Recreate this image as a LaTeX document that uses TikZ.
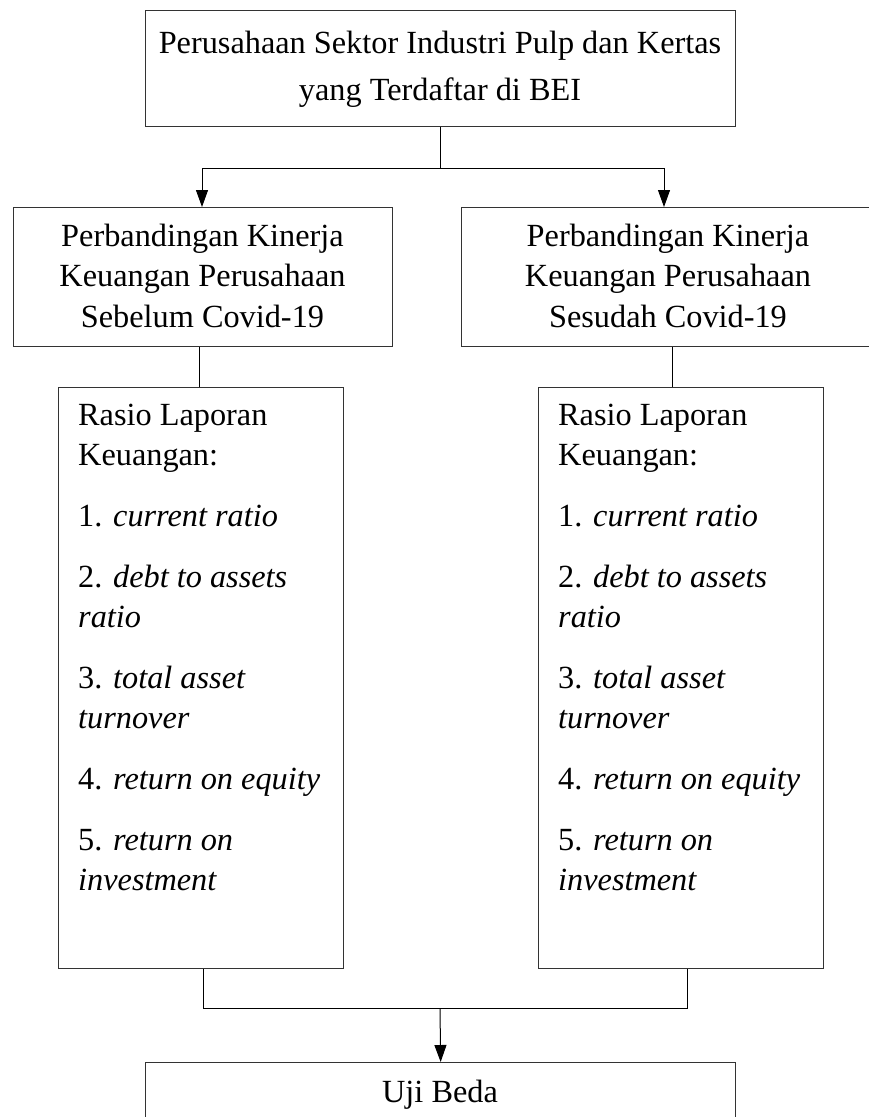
\documentclass[tikz,border=0pt]{standalone}
\usepackage{fontspec}
\setmainfont{Liberation Serif}
\usetikzlibrary{arrows.meta}

\tikzset{
  kotak/.style={draw=black!80, line width=1.3pt, inner sep=0pt},
  teks/.style={inner sep=0pt, font=\fontsize{32.3}{40.5}\selectfont},
  panah/.style={line width=1pt, -{Triangle[length=17pt,width=12pt]}},
  garis/.style={line width=1pt}
}

\begin{document}
\begin{tikzpicture}[x=1pt, y=-1pt]
  %kerangka pemikiran
  \useasboundingbox (0,0) rectangle (869,1117);
  \def\lw{285}
  % kotak atas
  \node[kotak, anchor=north west, minimum width=590pt, minimum height=116pt] (bei) at (145,10) {};
  \node[teks, anchor=base, align=center, font=\fontsize{32.3}{47}\selectfont] (beitxt) at (440,100)
    {Perusahaan Sektor Industri Pulp dan Kertas\\yang Terdaftar di BEI};
  % dua kotak perbandingan
  \node[kotak, anchor=north west, minimum width=379pt, minimum height=139pt] (sbl) at (13,207) {};
  \node[teks, anchor=base, align=center] (sbltxt) at (202.5,327)
    {Perbandingan Kinerja\\Keuangan Perusahaan\\Sebelum Covid-19};
  \node[kotak, anchor=north west, minimum width=414pt, minimum height=139pt] (ssd) at (461,207) {};
  \node[teks, anchor=base, align=center] (ssdtxt) at (668,327)
    {Perbandingan Kinerja\\Keuangan Perusahaan\\Sesudah Covid-19};
  % kotak rasio
  \node[kotak, anchor=north west, minimum width=\lw pt, minimum height=581pt] (sblrasio) at (58,387) {};
  \node[kotak, anchor=north west, minimum width=\lw pt, minimum height=581pt] (ssdrasio) at (538,387) {};
  \foreach \n/\x in {sbl/78, ssd/558}{
    \node[teks, anchor=base west, align=left, font=\fontsize{32.3}{40}\selectfont] (\n list) at (\x,890)
      {Rasio Laporan\\Keuangan:\\[21pt]
       1. \textit{current ratio}\\[21pt]
       2. \textit{debt to assets}\\\textit{ratio}\\[21pt]
       3. \textit{total asset}\\\textit{turnover}\\[21pt]
       4. \textit{return on equity}\\[21pt]
       5. \textit{return on}\\\textit{investment}};
  }
  % kotak bawah
  \node[kotak, anchor=north west, minimum width=590pt, minimum height=90pt] (uji) at (145,1062) {};
  \node[teks, anchor=base] (ujitxt) at (440,1102) {Uji Beda};
  % garis penghubung
  \coordinate (ja) at (440,168);
  \coordinate (jb) at (440,1008);
  \draw[garis] (bei.south -| ja) -- (ja);
  \draw[panah] (ja) -| (202,207);
  \draw[panah] (ja) -| (664,207);
  \draw[garis] (sbl.south -| 199,0) -- (sblrasio.north -| 199,0);
  \draw[garis] (ssd.south -| 672,0) -- (ssdrasio.north -| 672,0);
  \draw[garis] (sblrasio.south -| 203,0) |- (jb) -| (ssdrasio.south -| 687,0);
  \draw[panah] (jb) -- (uji.north);
\end{tikzpicture}
\end{document}
